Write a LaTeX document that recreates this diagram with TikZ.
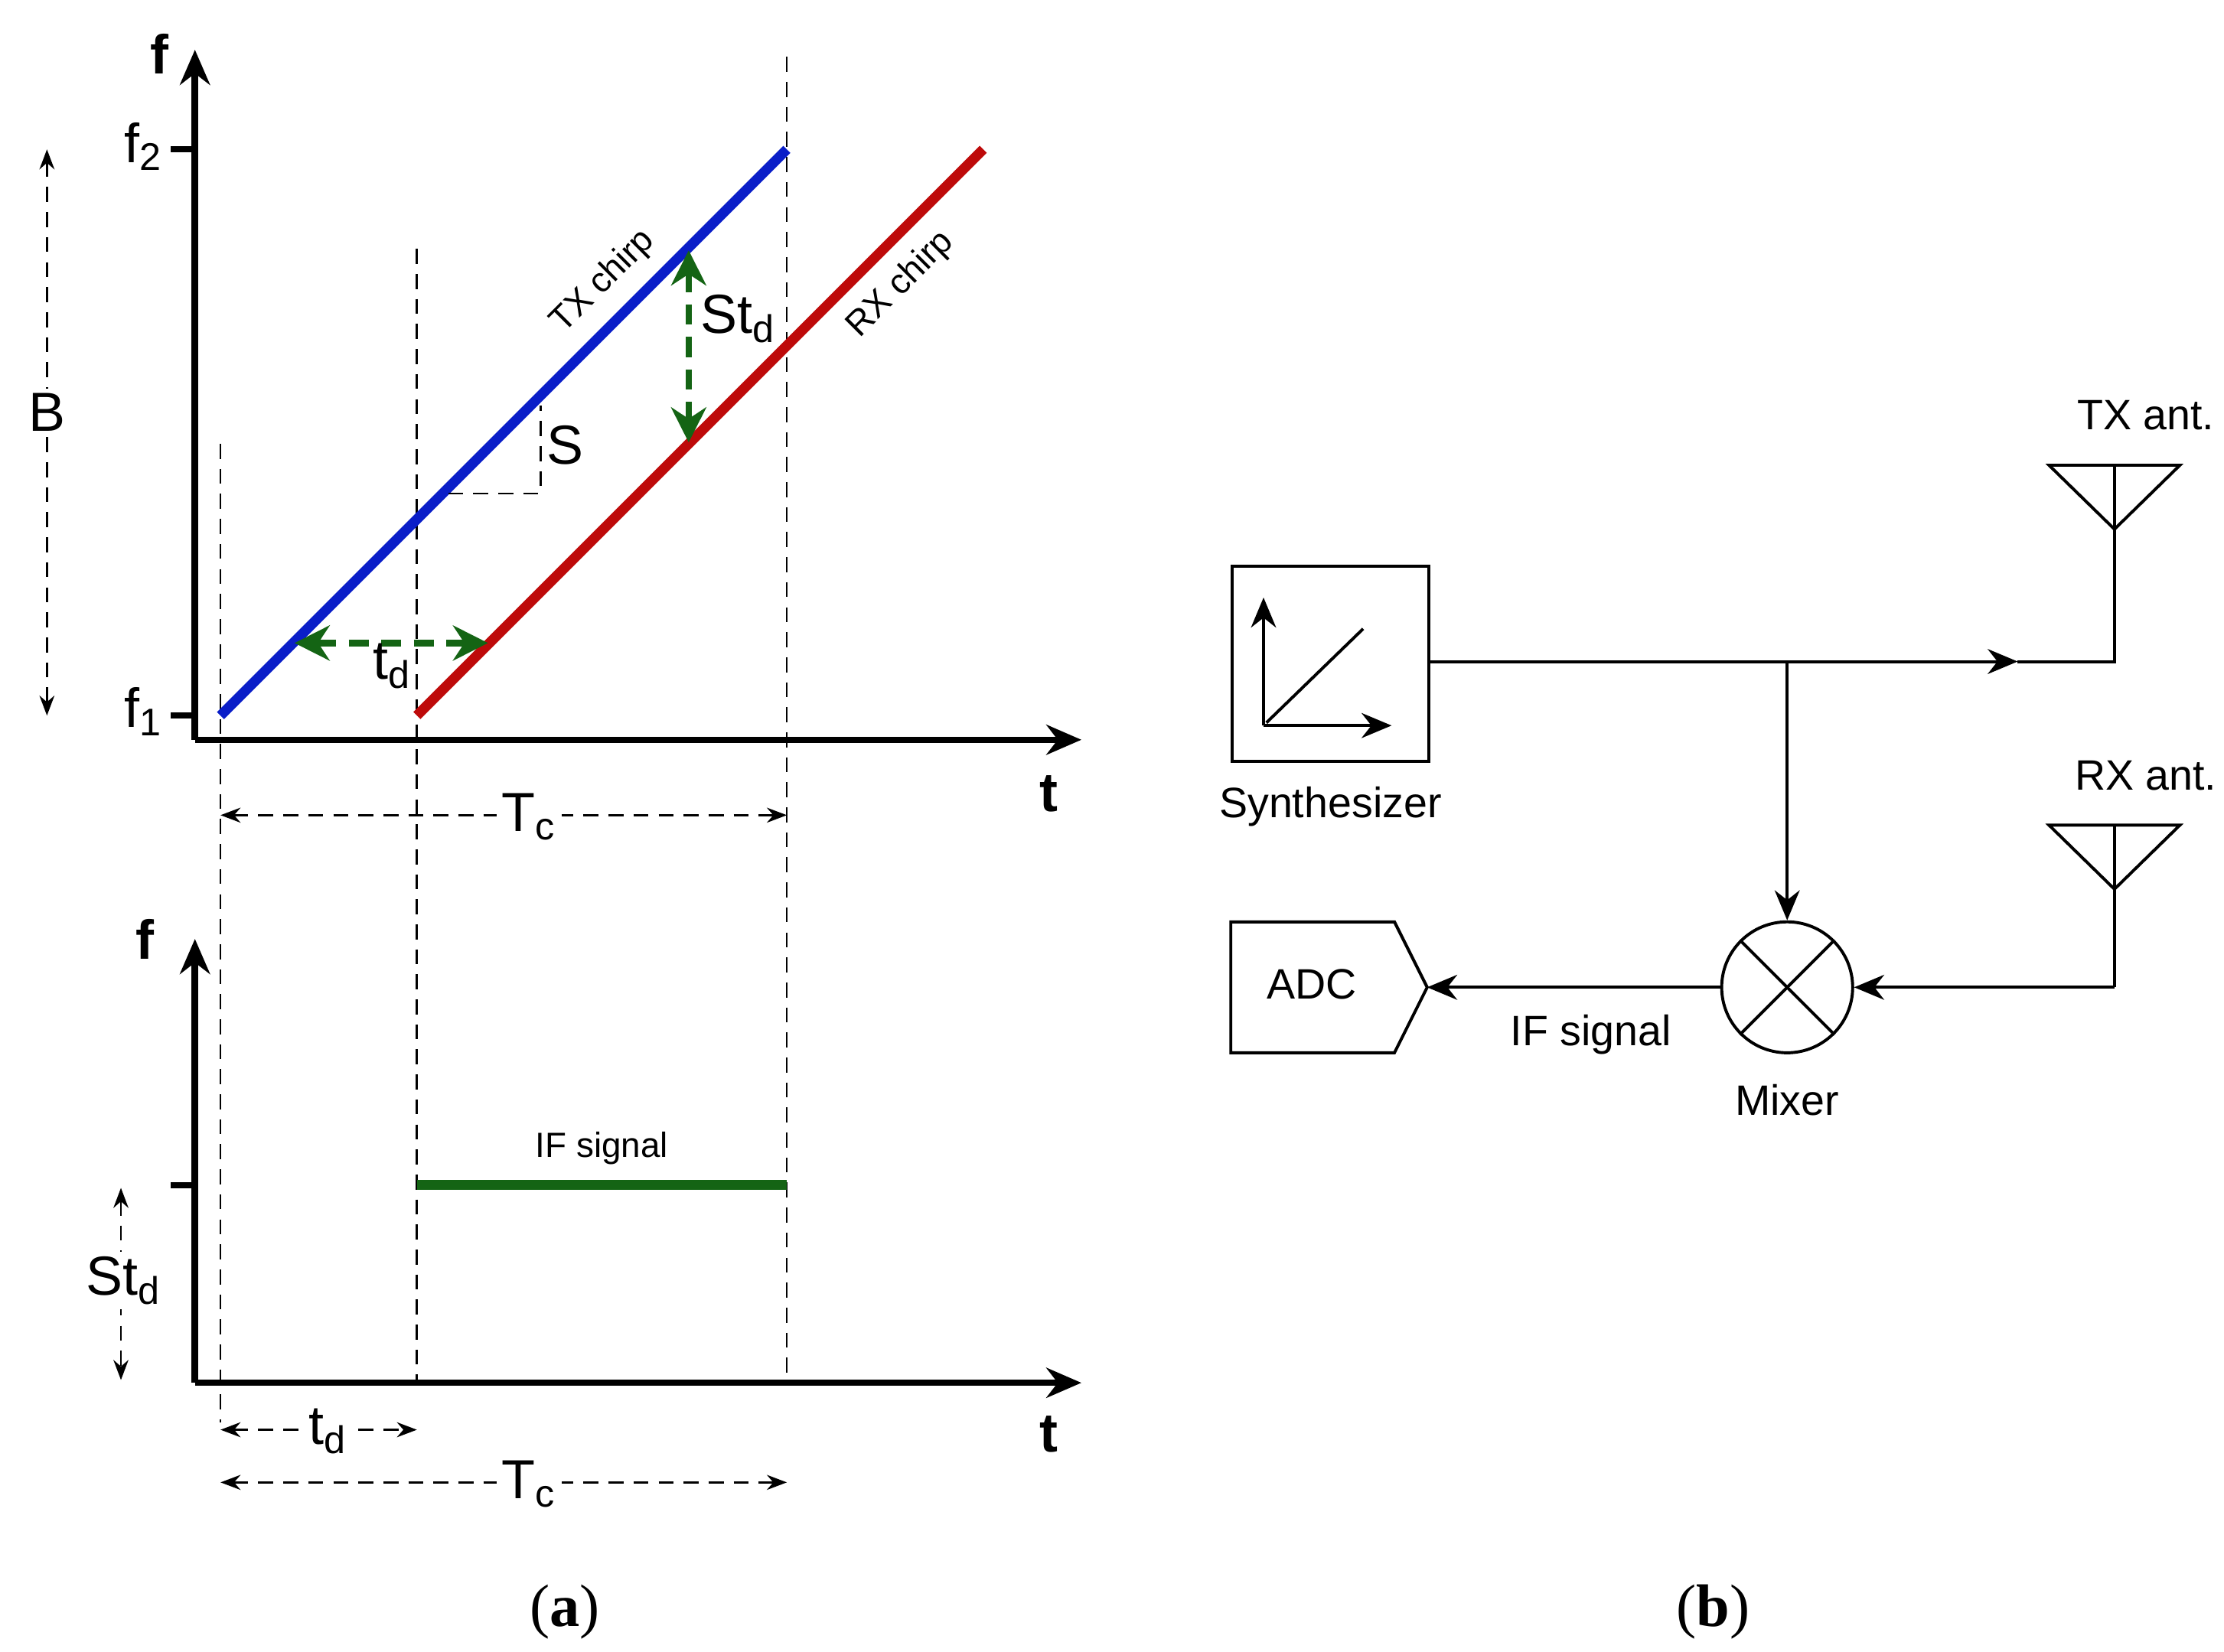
\documentclass[tikz,border=0pt]{standalone}
\usepackage{fontspec}
\setmainfont{Liberation Sans}
\newfontfamily\serifcap{Liberation Serif}
\usetikzlibrary{arrows.meta}
\definecolor{txblue}{RGB}{10,30,200}
\definecolor{rxred}{RGB}{190,10,10}
\definecolor{dgreen}{RGB}{20,100,20}
\begin{document}
\begin{tikzpicture}[x=0.01cm,y=-0.01cm,
 ax/.style={line width=1.3pt,-{Stealth[length=7pt,width=6pt]}},
 dim/.style={densely dashed,line width=0.4pt,{Stealth[length=4pt]}-{Stealth[length=4pt]}},
 guide/.style={densely dashed,line width=0.4pt},
 garr/.style={dash pattern=on 4pt off 2.5pt,line width=1.3pt,dgreen,{Stealth[length=7pt,width=7pt]}-{Stealth[length=7pt,width=7pt]}},
 lbl/.style={font=\fontsize{8.5}{10}\selectfont,inner sep=1pt},
 big/.style={font=\fontsize{11}{13}\selectfont,inner sep=1pt},
 bold/.style={font=\fontsize{11}{13}\selectfont\bfseries,inner sep=1pt},
 small/.style={font=\fontsize{7}{8}\selectfont,inner sep=0.5pt},
 wire/.style={line width=0.6pt},
 arr/.style={wire,-{Stealth[length=6pt,width=5pt]}}]
\useasboundingbox (0,0) rectangle (1563,1161);
% ---- top plot
\coordinate (O1) at (137,520);
\coordinate (Y1) at (137,35);
\coordinate (X1) at (760,520);
\draw[ax] (O1) -- (Y1);
\draw[ax] (O1) -- (X1);
\node[bold] (f1lab) at (112,38) {f};
\node[bold] (t1lab) at (737,558) {t};
\coordinate (tf2a) at (120,105); \coordinate (tf2b) at (137,105);
\coordinate (tf1a) at (120,503); \coordinate (tf1b) at (137,503);
\draw[line width=1.3pt] (tf2a) -- (tf2b);
\draw[line width=1.3pt] (tf1a) -- (tf1b);
\node[big] (f2) at (101,103) {f\textsubscript{2}};
\node[big] (f1) at (101,500) {f\textsubscript{1}};
\coordinate (Bt) at (33,105); \coordinate (Bb) at (33,503);
\draw[dim] (Bt) -- (Bb);
\node[big,fill=white] (B) at (33,290) {B};
% guides
\coordinate (g1t) at (155,312); \coordinate (g1b) at (155,1000);
\coordinate (g2t) at (293,175); \coordinate (g2b) at (293,972);
\coordinate (g3t) at (553,40); \coordinate (g3b) at (553,972);
\draw[guide] (g1t) -- (g1b);
\draw[guide] (g2t) -- (g2b);
\draw[guide] (g3t) -- (g3b);
% chirps
\coordinate (tx0) at (155,503); \coordinate (tx1) at (553,105);
\coordinate (rx0) at (293,503); \coordinate (rx1) at (691,105);
\draw[txblue,line width=2pt] (tx0) -- (tx1);
\draw[rxred,line width=2pt] (rx0) -- (rx1);
\node[small,rotate=45] (txl) at (424,198) {TX chirp};
\node[small,rotate=45] (rxl) at (633,200) {RX chirp};
% slope
\coordinate (s0) at (315,347); \coordinate (s1) at (380,347); \coordinate (s2) at (380,285);
\draw[guide] (s0) -- (s1) -- (s2);
\node[big] (S) at (397,313) {S};
% td, Std
\coordinate (tda) at (207,452); \coordinate (tdb) at (343,452);
\draw[garr] (tda) -- (tdb);
\node[big] (td) at (276,468) {t\textsubscript{d}};
\coordinate (sda) at (484,176); \coordinate (sdb) at (484,311);
\draw[garr] (sda) -- (sdb);
\node[big] (Std) at (519,224) {St\textsubscript{d}};
% Tc
\coordinate (tca) at (155,573); \coordinate (tcb) at (553,573);
\draw[dim] (tca) -- (tcb);
\node[big,fill=white] (Tc) at (372,574) {T\textsubscript{c}};
% ---- bottom plot
\coordinate (O2) at (137,972);
\coordinate (Y2) at (137,660);
\coordinate (X2) at (760,972);
\draw[ax] (O2) -- (Y2);
\draw[ax] (O2) -- (X2);
\node[bold] (f2lab) at (102,660) {f};
\node[bold] (t2lab) at (737,1008) {t};
\coordinate (tka) at (120,833); \coordinate (tkb) at (137,833);
\draw[line width=1.3pt] (tka) -- (tkb);
\coordinate (if0) at (293,833); \coordinate (if1) at (553,833);
\draw[dgreen,line width=2pt] (if0) -- (if1);
\node[small] (ifl) at (423,807) {IF signal};
\coordinate (sta) at (85,835); \coordinate (stb) at (85,970);
\draw[dim] (sta) -- (stb);
\node[big,fill=white] (Std2) at (87,900) {St\textsubscript{d}};
\coordinate (tdc) at (155,1005); \coordinate (tdd) at (293,1005);
\draw[dim] (tdc) -- (tdd);
\node[big,fill=white] (td2) at (231,1006) {t\textsubscript{d}};
\coordinate (tce) at (155,1042); \coordinate (tcf) at (553,1042);
\draw[dim] (tce) -- (tcf);
\node[big,fill=white] (Tc2) at (372,1043) {T\textsubscript{c}};
\node[font=\serifcap\fontsize{12}{14}\selectfont] (capa) at (397,1133) {(\textbf{a})};
\node[font=\serifcap\fontsize{12}{14}\selectfont] (capb) at (1204,1133) {(\textbf{b})};
% ---- block diagram
\node[draw,wire,minimum width=1.38cm,minimum height=1.37cm,inner sep=0pt,anchor=north west] (syn) at (865,397) {};
\coordinate (sbox) at (1003,465);
\coordinate (sa0) at (888,510); \coordinate (sa1) at (888,420); \coordinate (sa2) at (978,510);
\coordinate (sd0) at (890,508); \coordinate (sd1) at (958,442);
\draw[arr] (sa0) -- (sa1);
\draw[arr] (sa0) -- (sa2);
\draw[wire] (sd0) -- (sd1);
\node[lbl] (synl) at (935,567) {Synthesizer};
\coordinate (br) at (1256,465);
\coordinate (txc) at (1486,465);
\coordinate (txa) at (1486,372);
\coordinate (txmid) at (1418,465);
\draw[arr] (sbox) -- (txmid);
\draw[wire] (txmid) -- (txc) -- (txa);
\draw[wire] (1440,327) -- (1532,327) -- (1486,372) -- cycle;
\draw[wire] (1486,327) -- (txa);
\node[lbl] (txant) at (1508,292) {TX ant.};
\node[draw,wire,circle,minimum size=0.92cm,inner sep=0pt] (mix) at (1256,694) {};
\draw[wire] (mix.north west) -- (mix.south east);
\draw[wire] (mix.south west) -- (mix.north east);
\draw[arr] (br) -- (mix.north);
\node[lbl] (mixl2) at (1256,773) {Mixer};
\coordinate (rxa) at (1486,625);
\coordinate (rxc) at (1486,694);
\draw[wire] (1440,580) -- (1532,580) -- (1486,625) -- cycle;
\draw[wire] (1486,580) -- (rxa);
\draw[wire] (rxa) -- (rxc);
\draw[arr] (rxc) -- (mix.east);
\node[lbl] (rxant) at (1508,545) {RX ant.};
\coordinate (adcr) at (1003,694);
\draw[wire] (865,648) -- (980,648) -- (adcr) -- (980,740) -- (865,740) -- cycle;
\node[lbl] (adc) at (922,692) {ADC};
\draw[arr] (mix.west) -- (adcr);
\node[lbl] (ifs) at (1118,727) {IF signal};
\end{tikzpicture}
\end{document}
